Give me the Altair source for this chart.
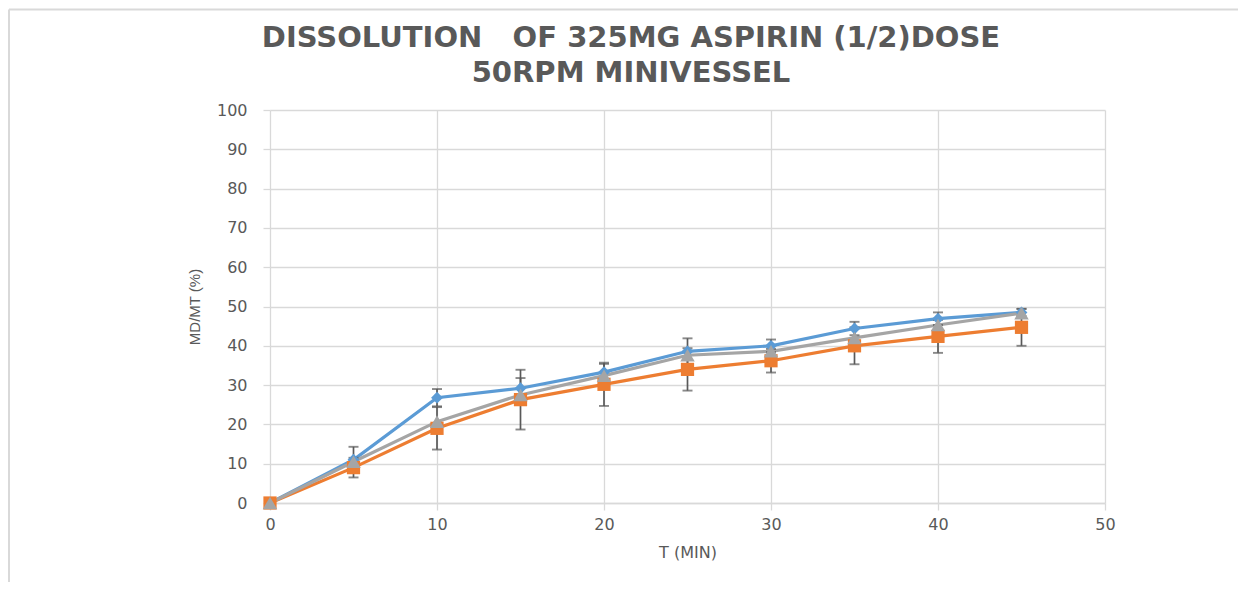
import altair as alt
import pandas as pd

# ---- data ----
times = [0, 5, 10, 15, 20, 25, 30, 35, 40, 45]
series_names = ["Series A", "Series B", "Series C"]
blue_vals = [0, 11.0, 26.8, 29.2, 33.3, 38.6, 40.0, 44.4, 46.9, 48.5]
orange_vals = [0, 9.0, 19.0, 26.3, 30.2, 34.0, 36.2, 40.0, 42.4, 44.7]
gray_vals = [0, 10.5, 20.7, 27.5, 32.4, 37.6, 38.6, 42.0, 45.3, 48.3]
blue_err = [0, 3.3, 2.2, 2.6, 2.1, 3.3, 1.6, 1.7, 1.6, 0.9]
orange_err = [0, 2.5, 5.4, 7.6, 5.5, 5.4, 3.0, 4.7, 4.2, 4.7]
x_ticks = [0, 10, 20, 30, 40, 50]
y_ticks = [0, 10, 20, 30, 40, 50, 60, 70, 80, 90, 100]
title_lines = ["DISSOLUTION\u00a0\u00a0 OF 325MG ASPIRIN (1/2)DOSE", "50RPM MINIVESSEL"]

colors = ["#5B9BD5", "#ED7D31", "#A5A5A5"]
shapes = ["diamond", "square", "triangle-up"]

rows = []
for name, vals, errs in [
    (series_names[0], blue_vals, blue_err),
    (series_names[1], orange_vals, orange_err),
    (series_names[2], gray_vals, [0] * len(times)),
]:
    for t, v, e in zip(times, vals, errs):
        rows.append({"t": t, "v": v, "lo": v - e, "hi": v + e, "s": name, "e": e})
df = pd.DataFrame(rows)
err_df = df[df["e"] > 0]

x_scale = alt.Scale(domain=[0, 50], nice=False)
y_scale = alt.Scale(domain=[0, 100], nice=False)
col = alt.Color("s:N", scale=alt.Scale(domain=series_names, range=colors), legend=None)

x_axis = alt.Axis(values=x_ticks, title="T (MIN)", labelFlush=False)
y_axis = alt.Axis(
    values=y_ticks,
    title="MD/MT (%)",
    titleFont="Liberation Sans",
    titleFontSize=15,
    labelFlush=False,
)


def X(field):
    return alt.X(field, type="quantitative", scale=x_scale, axis=x_axis, title="T (MIN)")


def Y(field):
    return alt.Y(field, type="quantitative", scale=y_scale, axis=y_axis, title="MD/MT (%)")


base = alt.Chart(df)

lines = base.mark_line(strokeWidth=3.2).encode(x=X("t"), y=Y("v"), color=col, detail="s:N")

err_rule = alt.Chart(err_df).mark_rule(color="#595959", strokeWidth=1.7).encode(
    x=X("t"), y=Y("lo"), y2="hi:Q"
)
err_cap_hi = alt.Chart(err_df).mark_tick(
    color="#595959", orient="horizontal", size=10, thickness=1.9
).encode(x=X("t"), y=Y("hi"))
err_cap_lo = alt.Chart(err_df).mark_tick(
    color="#595959", orient="horizontal", size=10, thickness=1.9
).encode(x=X("t"), y=Y("lo"))

points = base.mark_point(filled=True, opacity=1).encode(
    x=X("t"),
    y=Y("v"),
    color=col,
    shape=alt.Shape("s:N", scale=alt.Scale(domain=series_names, range=shapes), legend=None),
    size=alt.Size("s:N", scale=alt.Scale(domain=series_names, range=[140, 210, 180]), legend=None),
)

one = pd.DataFrame({"k": [1]})
frame_top = alt.Chart(one).mark_rule(color="#d9d9d9", strokeWidth=2).encode(
    x=alt.value(-261), x2=alt.value(968), y=alt.value(-100.5)
)
frame_left = alt.Chart(one).mark_rule(color="#d9d9d9", strokeWidth=2).encode(
    x=alt.value(-261), y=alt.value(-100.5), y2=alt.value(472)
)


def title_layer(text, ypos):
    return alt.Chart(pd.DataFrame({"line": [text]})).mark_text(
        font="DejaVu Sans",
        fontSize=29,
        fontWeight="bold",
        color="#595959",
        align="center",
        baseline="middle",
    ).encode(text="line:N", x=alt.value(361), y=alt.value(ypos))


title1 = title_layer(title_lines[0], -72)
title2 = title_layer(title_lines[1], -37)

chart = (
    alt.layer(frame_top, frame_left, lines, err_rule, err_cap_hi, err_cap_lo, points, title1, title2)
    .properties(
        width=835,
        height=393,
        padding={"left": 262, "top": 102, "right": 133, "bottom": 79},
        autosize=alt.AutoSizeParams(type="none"),
    )
    .configure_view(stroke=None)
    .configure_axis(
        gridColor="#d9d9d9",
        gridWidth=1.3,
        domainColor="#d9d9d9",
        domainWidth=1.3,
        tickColor="#d9d9d9",
        tickWidth=1.3,
        tickSize=7,
        labelFont="DejaVu Sans",
        labelFontSize=16,
        labelColor="#595959",
        titleFont="DejaVu Sans",
        titleFontSize=16,
        titleFontWeight="normal",
        titleColor="#595959",
        labelOverlap=False,
    )
    .configure_axisY(labelPadding=16, titlePadding=14, domain=False)
    .configure_axisX(labelPadding=6, titlePadding=12)
)

chart.save("out.html", embed_options={"renderer": "svg", "actions": False})
